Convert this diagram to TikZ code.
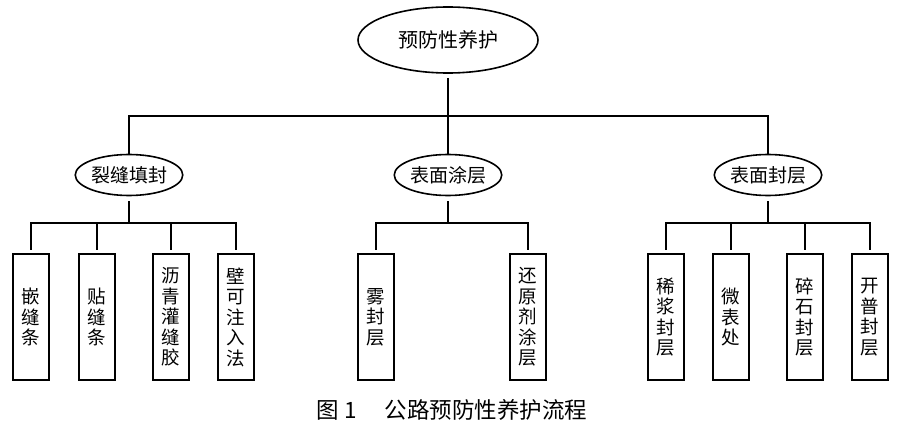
\documentclass[tikz,border=0pt]{standalone}
\usepackage{fontspec}
\setmainfont{Noto Sans CJK SC}
\usetikzlibrary{shapes.geometric,positioning}

\tikzset{
  topnode/.style={ellipse, draw, line width=1.6pt, minimum width=180pt, minimum height=66pt, inner sep=0pt, font=\fontsize{20}{24}\selectfont},
  midnode/.style={ellipse, draw, line width=1.6pt, minimum width=98pt, minimum height=41pt, inner sep=0pt, font=\fontsize{19}{23}\selectfont},
  leaf/.style={draw, line width=2pt, minimum width=36pt, minimum height=126pt, inner sep=0pt, align=center, font=\fontsize{18.5}{20.5}\selectfont},
  link/.style={line width=1.8pt}
}

\begin{document}
\begin{tikzpicture}[x=1pt, y=-1pt]
    \useasboundingbox (0,0) rectangle (900,428);

    % Root
    \node[topnode] (root) at (448,40) {预防性养护};

    % Second level
    \node[midnode] (crack) at (129,175) {裂缝填封};
    \node[midnode] (coat) at (448,175) {表面涂层};
    \node[midnode] (seal) at (768,175) {表面封层};

    \coordinate (bus) at (448,116);
    \draw[link, shorten <=4pt] (root.south) -- (bus);
    \draw[link] (crack.north) |- (bus) -| (seal.north);
    \draw[link] (bus) -- (coat.north);

    % Crack sealing
    \node[leaf] (inlay) at (31,317) {嵌\\缝\\条};
    \node[leaf] (tape) at (97,317) {贴\\缝\\条};
    \node[leaf] (glue) at (171,317) {沥\\青\\灌\\缝\\胶};
    \node[leaf] (inject) at (236,317) {壁\\可\\注\\入\\法};

    % Surface coating
    \node[leaf] (fog) at (376,317) {雾\\封\\层};
    \node[leaf] (rejuv) at (528,317) {还\\原\\剂\\涂\\层};

    % Surface sealing
    \node[leaf] (slurry) at (666,317) {稀\\浆\\封\\层};
    \node[leaf] (micro) at (731,317) {微\\表\\处};
    \node[leaf] (chip) at (805,317) {碎\\石\\封\\层};
    \node[leaf] (cape) at (870,317) {开\\普\\封\\层};

    % Branches
    \coordinate (crackbus) at (129,223);
    \coordinate (coatbus) at (448,223);
    \coordinate (sealbus) at (768,223);
    \draw[link, shorten <=5pt] (crack.south) -- (crackbus);
    \draw[link, shorten <=5pt] (coat.south) -- (coatbus);
    \draw[link, shorten <=5pt] (seal.south) -- (sealbus);
    \foreach \n in {inlay,tape,glue,inject}
        \draw[link, shorten >=3pt] (crackbus) -| (\n.north);
    \foreach \n in {fog,rejuv}
        \draw[link, shorten >=3pt] (coatbus) -| (\n.north);
    \foreach \n in {slurry,micro,chip,cape}
        \draw[link, shorten >=3pt] (sealbus) -| (\n.north);

    % Caption
    \node[anchor=west, font=\fontsize{22.5}{26}\selectfont] (caption) at (313,410) {图 1\hspace{28pt}公路预防性养护流程};
\end{tikzpicture}
\end{document}
